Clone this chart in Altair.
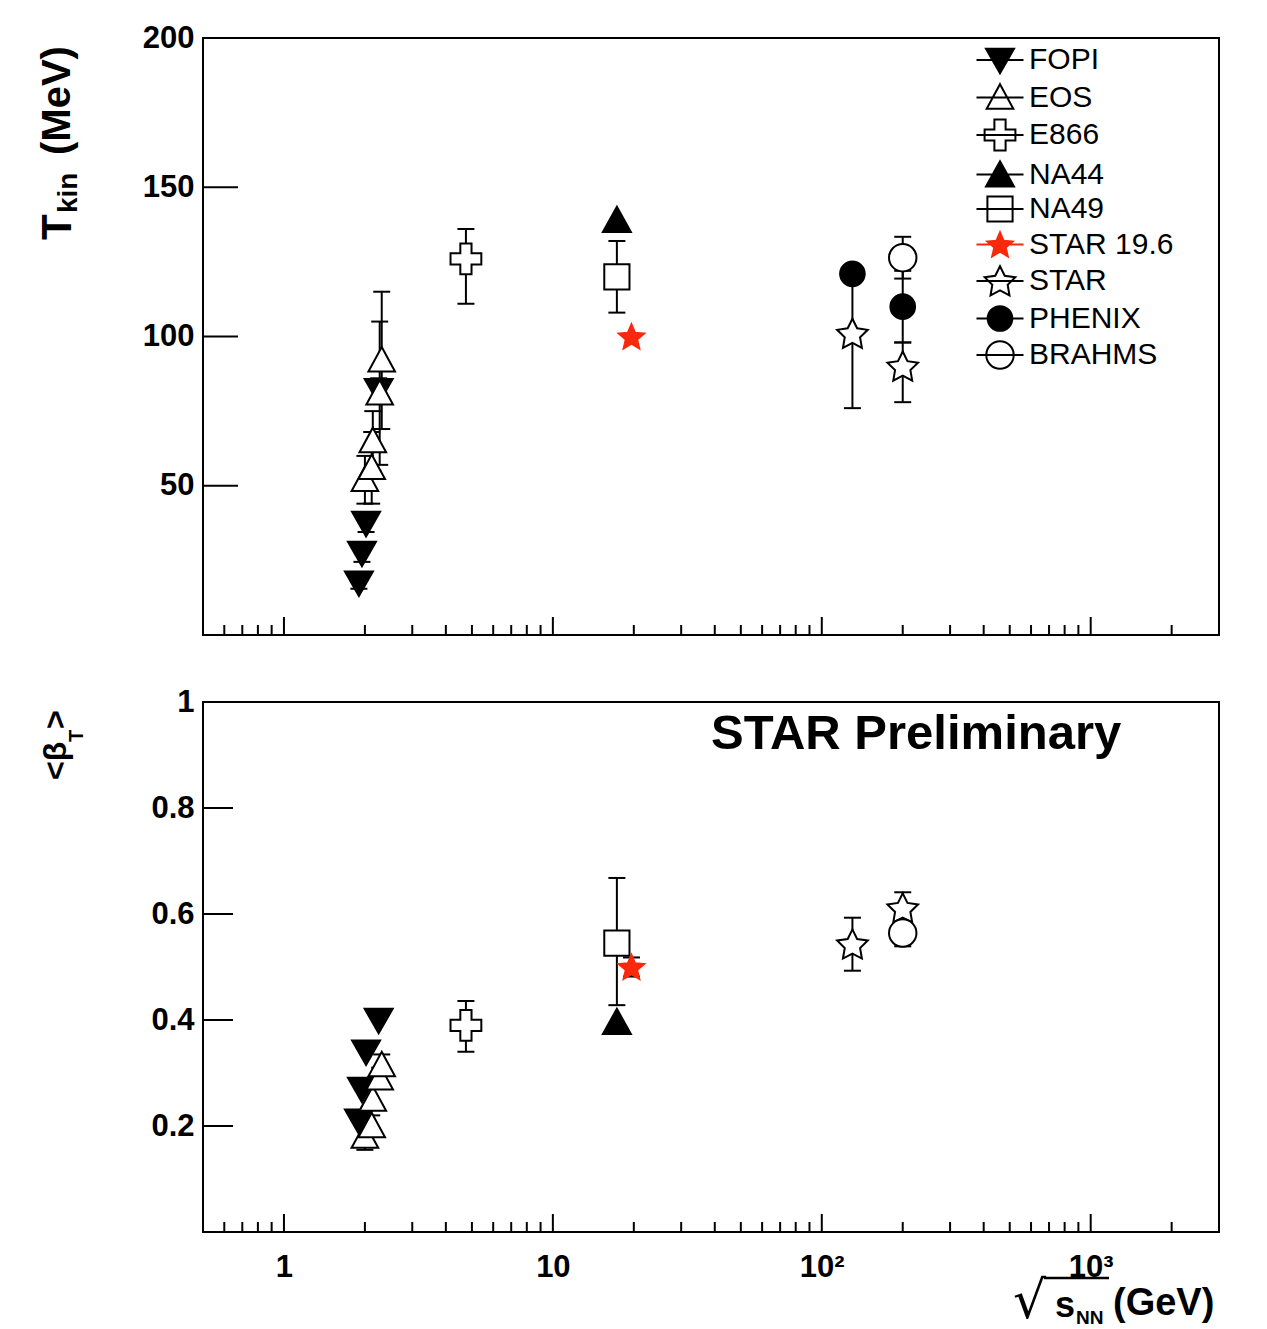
import math
import altair as alt
import pandas as pd

# ---------------- data ----------------
EXPERIMENTS = ["FOPI", "EOS", "E866", "NA44", "NA49", "STAR 19.6", "STAR", "PHENIX", "BRAHMS"]

# sqrt(s_NN) [GeV]
fopi_sqrt_s = [1.90, 1.95, 2.02, 2.25]
eos_sqrt_s = [2.00, 2.12, 2.14, 2.27, 2.31]
e866_sqrt_s = [4.75]
na44_sqrt_s = [17.3]
na49_sqrt_s = [17.3]
star196_sqrt_s = [19.6]
star_sqrt_s = [130.0, 200.0]
phenix_sqrt_s = [130.0, 200.0]
brahms_sqrt_s = [200.0]

# T_kin [MeV] with upper / lower errors
fopi_tkin = [17.5, 27.5, 37.5, 82.0]
fopi_tkin_up = [2.0, 3.0, 3.0, 4.0]
fopi_tkin_dn = [2.0, 3.0, 3.0, 4.0]
eos_tkin = [52.0, 56.0, 65.0, 81.0, 92.0]
eos_tkin_up = [8.0, 12.0, 10.0, 24.0, 23.0]
eos_tkin_dn = [8.0, 12.0, 10.0, 24.0, 23.0]
e866_tkin = [126.0]
e866_tkin_up = [10.0]
e866_tkin_dn = [15.0]
na44_tkin = [139.0]
na44_tkin_up = [0.0]
na44_tkin_dn = [0.0]
na49_tkin = [120.0]
na49_tkin_up = [12.0]
na49_tkin_dn = [12.0]
star196_tkin = [100.0]
star196_tkin_up = [0.0]
star196_tkin_dn = [0.0]
star_tkin = [101.0, 90.0]
star_tkin_up = [19.0, 8.0]
star_tkin_dn = [25.0, 12.0]
phenix_tkin = [121.0, 110.0]
phenix_tkin_up = [0.0, 12.0]
phenix_tkin_dn = [0.0, 12.0]
brahms_tkin = [126.4]
brahms_tkin_up = [7.0]
brahms_tkin_dn = [7.0]

# <beta_T> with upper / lower errors
fopi_beta = [0.21, 0.27, 0.34, 0.40]
fopi_beta_up = [0.0, 0.0, 0.0, 0.0]
fopi_beta_dn = [0.0, 0.0, 0.0, 0.0]
eos_beta = [0.18, 0.20, 0.25, 0.29, 0.315]
eos_beta_up = [0.025, 0.02, 0.02, 0.02, 0.02]
eos_beta_dn = [0.025, 0.02, 0.02, 0.02, 0.02]
e866_beta = [0.39]
e866_beta_up = [0.046]
e866_beta_dn = [0.05]
na44_beta = [0.396]
na44_beta_up = [0.0]
na44_beta_dn = [0.0]
na49_beta = [0.545]
na49_beta_up = [0.123]
na49_beta_dn = [0.117]
star196_beta = [0.50]
star196_beta_up = [0.018]
star196_beta_dn = [0.018]
star_beta = [0.543, 0.611]
star_beta_up = [0.05, 0.03]
star_beta_dn = [0.05, 0.03]
brahms_beta = [0.564]
brahms_beta_up = [0.025]
brahms_beta_dn = [0.025]

TOP_SERIES = [
    ("FOPI", fopi_sqrt_s, fopi_tkin, fopi_tkin_up, fopi_tkin_dn),
    ("EOS", eos_sqrt_s, eos_tkin, eos_tkin_up, eos_tkin_dn),
    ("E866", e866_sqrt_s, e866_tkin, e866_tkin_up, e866_tkin_dn),
    ("NA44", na44_sqrt_s, na44_tkin, na44_tkin_up, na44_tkin_dn),
    ("NA49", na49_sqrt_s, na49_tkin, na49_tkin_up, na49_tkin_dn),
    ("STAR 19.6", star196_sqrt_s, star196_tkin, star196_tkin_up, star196_tkin_dn),
    ("STAR", star_sqrt_s, star_tkin, star_tkin_up, star_tkin_dn),
    ("PHENIX", phenix_sqrt_s, phenix_tkin, phenix_tkin_up, phenix_tkin_dn),
    ("BRAHMS", brahms_sqrt_s, brahms_tkin, brahms_tkin_up, brahms_tkin_dn),
]
BOT_SERIES = [
    ("FOPI", fopi_sqrt_s, fopi_beta, fopi_beta_up, fopi_beta_dn),
    ("EOS", eos_sqrt_s, eos_beta, eos_beta_up, eos_beta_dn),
    ("E866", e866_sqrt_s, e866_beta, e866_beta_up, e866_beta_dn),
    ("NA44", na44_sqrt_s, na44_beta, na44_beta_up, na44_beta_dn),
    ("NA49", na49_sqrt_s, na49_beta, na49_beta_up, na49_beta_dn),
    ("STAR 19.6", star196_sqrt_s, star196_beta, star196_beta_up, star196_beta_dn),
    ("STAR", star_sqrt_s, star_beta, star_beta_up, star_beta_dn),
    ("BRAHMS", brahms_sqrt_s, brahms_beta, brahms_beta_up, brahms_beta_dn),
]

X_MAJOR = [1, 10, 100, 1000]
X_MINOR = [0.5, 0.6, 0.7, 0.8, 0.9, 2, 3, 4, 5, 6, 7, 8, 9,
           20, 30, 40, 50, 60, 70, 80, 90, 200, 300, 400, 500, 600, 700, 800, 900, 2000]
Y_TICKS_TOP = [50, 100, 150, 200]
Y_TICKS_BOT = [0.2, 0.4, 0.6, 0.8, 1.0]


def build(series):
    pts, errs, caps = [], [], []
    for exp, xs, ys, up, dn in series:
        for x, y, u, d in zip(xs, ys, up, dn):
            pts.append({"exp": exp, "sqrt_s": x, "val": y})
            if u > 0 or d > 0:
                errs.append({"exp": exp, "sqrt_s": x, "lo": y - d, "hi": y + u})
                caps.append({"sqrt_s": x, "v": y - d})
                caps.append({"sqrt_s": x, "v": y + u})
    return pd.DataFrame(pts), pd.DataFrame(errs), pd.DataFrame(caps)


top_pts, top_err, top_caps = build(TOP_SERIES)
bot_pts, bot_err, bot_caps = build(BOT_SERIES)

# ---------------- marker shapes (ROOT-like) ----------------
def f(v):
    s = f"{v:.3f}".rstrip("0").rstrip(".")
    return "0" if s in ("-0", "") else s


def poly(pts):
    return "M" + "L".join(f"{f(x)},{f(y)}" for x, y in pts) + "Z"


def star(R, ratio):
    pts = []
    for k in range(10):
        ang = -math.pi / 2 + k * math.pi / 5
        r = R if k % 2 == 0 else R * ratio
        pts.append((r * math.cos(ang), r * math.sin(ang) + 0.08 * R))
    return poly(pts)


def circ(r):
    return f"M{f(-r)},0A{f(r)},{f(r)} 0 1,0 {f(r)},0A{f(r)},{f(r)} 0 1,0 {f(-r)},0Z"


A, L = 0.4, 1.1
SHAPES = {
    "FOPI": poly([(-1, -0.8), (1, -0.8), (0, 0.95)]),
    "EOS": poly([(0, -0.95), (0.95, 0.8), (-0.95, 0.8)]),
    "E866": poly([(-A, -L), (A, -L), (A, -A), (L, -A), (L, A), (A, A), (A, L), (-A, L),
                  (-A, A), (-L, A), (-L, -A), (-A, -A)]),
    "NA44": poly([(0, -0.95), (1, 0.85), (-1, 0.85)]),
    "NA49": poly([(-0.9, -0.9), (0.9, -0.9), (0.9, 0.9), (-0.9, 0.9)]),
    "STAR 19.6": star(0.95, 0.45),
    "STAR": star(1.15, 0.5),
    "PHENIX": circ(0.88),
    "BRAHMS": circ(0.98),
}
RED = "#f8290c"
FILLED = {"FOPI", "NA44", "STAR 19.6", "PHENIX"}
FILL_PLOT = [(RED if e == "STAR 19.6" else "black") if e in FILLED else "white" for e in EXPERIMENTS]
FILL_LEG = [(RED if e == "STAR 19.6" else "black") if e in FILLED else "transparent" for e in EXPERIMENTS]
STROKE = [RED if e == "STAR 19.6" else "black" for e in EXPERIMENTS]
LEG_SHAPES = [SHAPES[e] + "M-1.68,0H1.68" for e in EXPERIMENTS]

MSIZE = 784
FONT = "Liberation Sans"
W, HT, HB = 1016, 597, 530

xscale = alt.Scale(type="log", domain=[0.5, 3000], nice=False)
yscale_top = alt.Scale(domain=[0, 200], nice=False, zero=False)
yscale_bot = alt.Scale(domain=[0, 1], nice=False, zero=False)
ONE = pd.DataFrame({"k": [0]})


def text(t, x, y, size, angle=0, font=FONT, weight="bold"):
    return alt.Chart(ONE).mark_text(
        text=t, fontSize=size, font=font, fontWeight=weight, angle=angle,
        align="left", baseline="alphabetic", color="black"
    ).encode(x=alt.value(x), y=alt.value(y))


def panel(pts, err, caps, yscale, yticks, yfmt, ytick_len, H, xaxis, extra):
    yaxis = alt.Axis(values=yticks, format=yfmt, labelFont=FONT, labelFontSize=31,
                     labelFontWeight="bold", labelColor="black", labelPadding=9,
                     ticks=False, domain=False, grid=False, title=None)
    ytk = alt.Chart(pd.DataFrame({"v": yticks})).mark_rule(color="black", strokeWidth=2).encode(
        y=alt.Y("v:Q", scale=yscale, axis=yaxis), x=alt.value(0), x2=alt.value(ytick_len))
    xmaj = alt.Chart(pd.DataFrame({"v": X_MAJOR})).mark_rule(color="black", strokeWidth=2).encode(
        x=alt.X("v:Q", scale=xscale, axis=xaxis), y=alt.value(H), y2=alt.value(H - 18))
    xmin = alt.Chart(pd.DataFrame({"v": X_MINOR})).mark_rule(color="black", strokeWidth=2).encode(
        x=alt.X("v:Q", scale=xscale, axis=xaxis), y=alt.value(H), y2=alt.value(H - 10))
    bars = alt.Chart(err).mark_rule(color="black", strokeWidth=2).encode(
        x=alt.X("sqrt_s:Q", scale=xscale, axis=xaxis),
        y=alt.Y("lo:Q", scale=yscale, axis=yaxis), y2="hi:Q")
    capm = alt.Chart(caps).mark_tick(orient="horizontal", size=17, thickness=2,
                                     color="black", opacity=1).encode(
        x=alt.X("sqrt_s:Q", scale=xscale, axis=xaxis),
        y=alt.Y("v:Q", scale=yscale, axis=yaxis))
    marks = alt.Chart(pts).mark_point(size=MSIZE, filled=False, strokeWidth=2,
                                      opacity=1, fillOpacity=1).encode(
        x=alt.X("sqrt_s:Q", scale=xscale, axis=xaxis),
        y=alt.Y("val:Q", scale=yscale, axis=yaxis),
        shape=alt.Shape("exp:N", scale=alt.Scale(domain=EXPERIMENTS, range=[SHAPES[e] for e in EXPERIMENTS]), legend=None),
        fill=alt.Fill("exp:N", scale=alt.Scale(domain=EXPERIMENTS, range=FILL_PLOT), legend=None),
        stroke=alt.Stroke("exp:N", scale=alt.Scale(domain=EXPERIMENTS, range=STROKE), legend=None),
    )
    layers = [ytk, xmaj, xmin, bars, capm, marks]
    for make in extra:
        layers.append(make(yaxis))
    return alt.layer(*layers).resolve_scale(shape="independent", fill="independent",
                                            stroke="independent").properties(width=W, height=H)


LEG = alt.Legend(title=None, orient="none", legendX=782, legendY=7, direction="vertical",
                 labelFont=FONT, labelFontSize=30, labelColor="black", labelOffset=14,
                 labelLimit=400, symbolSize=MSIZE, symbolStrokeWidth=2, rowPadding=1.5,
                 padding=0, symbolOpacity=1)


def legend_layer(yaxis):
    return alt.Chart(top_pts).mark_point(size=MSIZE, filled=False, opacity=0, strokeWidth=2).encode(
        x=alt.X("sqrt_s:Q", scale=xscale, axis=None),
        y=alt.Y("val:Q", scale=yscale_top, axis=yaxis),
        shape=alt.Shape("exp:N", scale=alt.Scale(domain=EXPERIMENTS, range=LEG_SHAPES), legend=LEG),
        fill=alt.Fill("exp:N", scale=alt.Scale(domain=EXPERIMENTS, range=FILL_LEG), legend=LEG),
        stroke=alt.Stroke("exp:N", scale=alt.Scale(domain=EXPERIMENTS, range=STROKE), legend=LEG),
    )


def plain(layer):
    return lambda yaxis: layer


top_extra = [
    legend_layer,
    plain(text("T", -132, 202, 42, angle=270)),
    plain(text("kin", -126, 175, 28, angle=270)),
    plain(text("(MeV)", -133, 117, 40, angle=270)),
]
bot_extra = [
    plain(text("<β", -137, 78, 32, angle=270)),
    plain(text("T", -120, 40, 20, angle=270)),
    plain(text(">", -137, 27, 32, angle=270)),
    plain(text("STAR Preliminary", 508, 47, 49)),
    plain(text("√", 810, HB + 86, 52, font="DejaVu Sans", weight="normal")),
    plain(alt.Chart(ONE).mark_rule(color="black", strokeWidth=2.5).encode(
        x=alt.value(841), x2=alt.value(906), y=alt.value(HB + 46))),
    plain(text("s", 852, HB + 85, 36)),
    plain(text("NN", 873, HB + 92, 19)),
    plain(text("(GeV)", 910, HB + 83, 38)),
]

xaxis_bot = alt.Axis(values=X_MAJOR,
                     labelExpr="datum.value == 1 ? '1' : datum.value == 10 ? '10' : datum.value == 100 ? '10²' : '10³'",
                     labelFont=FONT, labelFontSize=31, labelFontWeight="bold", labelColor="black",
                     labelPadding=20, ticks=False, domain=False, grid=False, title=None)

top = panel(top_pts, top_err, top_caps, yscale_top, Y_TICKS_TOP, "d", 35, HT, None, top_extra)
bottom = panel(bot_pts, bot_err, bot_caps, yscale_bot, Y_TICKS_BOT, "~g", 30, HB, xaxis_bot, bot_extra)

chart = alt.vconcat(top, bottom, spacing=67, bounds="flush").resolve_scale(
    shape="independent", fill="independent", stroke="independent"
).properties(
    padding={"left": 28, "top": 13, "right": 5, "bottom": 0},
    background="white",
).configure_view(stroke="black", strokeWidth=2)

chart.save("out.html", embed_options={"renderer": "svg", "actions": False})
